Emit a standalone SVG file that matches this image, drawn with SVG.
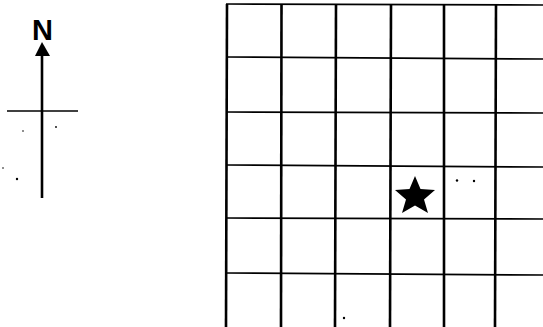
<svg xmlns="http://www.w3.org/2000/svg" width="543" height="327" viewBox="0 0 543 327">
<style>
.v{stroke:#000;stroke-width:2.6}
.h{stroke:#000;stroke-width:1.7}
.dot{fill:#000}
</style>
<rect width="543" height="327" fill="#fff"/>
<g id="compass">
<text x="42.5" y="40" font-family="Liberation Sans, Arial, sans-serif" font-weight="bold" font-size="29" text-anchor="middle">N</text>
<line x1="42" y1="54" x2="42" y2="198" stroke="#000" stroke-width="2.6"/>
<polygon points="42,42 35,56 50,56" fill="#000"/>
<line x1="7" y1="111" x2="78" y2="111" stroke="#000" stroke-width="1.7"/>
</g>
<g id="grid">
<line class="h" x1="226" y1="4" x2="543" y2="5"/>
<line class="h" x1="226" y1="57" x2="543" y2="59"/>
<line class="h" x1="226" y1="112" x2="543" y2="113"/>
<line class="h" x1="226" y1="165" x2="543" y2="167"/>
<line class="h" x1="226" y1="218" x2="543" y2="219"/>
<line class="h" x1="226" y1="273" x2="543" y2="275"/>
<line class="v" x1="227" y1="4" x2="226" y2="327"/>
<line class="v" x1="281.5" y1="4" x2="281" y2="327"/>
<line class="v" x1="336" y1="4" x2="335" y2="327"/>
<line class="v" x1="391" y1="4" x2="390" y2="327"/>
<line class="v" x1="444" y1="4" x2="444" y2="327"/>
<line class="v" x1="496" y1="4" x2="495" y2="327"/>
</g>
<g id="star">
<polygon points="415,176 420.5,189 435,190 424,199.5 428,213 415,205.5 402,213 406,199.5 395,190 409.5,189" fill="#000"/>
</g>
<g id="specks">
<circle class="dot" cx="457" cy="180.5" r="1.2"/>
<circle class="dot" cx="474" cy="181" r="1.2"/>
<circle class="dot" cx="344" cy="318" r="1.2"/>
<circle class="dot" cx="17" cy="179" r="1.2"/>
<circle class="dot" cx="3" cy="168" r="0.8"/>
<circle class="dot" cx="56" cy="127" r="0.9"/>
<circle class="dot" cx="23" cy="131" r="0.8"/>
</g>
</svg>
